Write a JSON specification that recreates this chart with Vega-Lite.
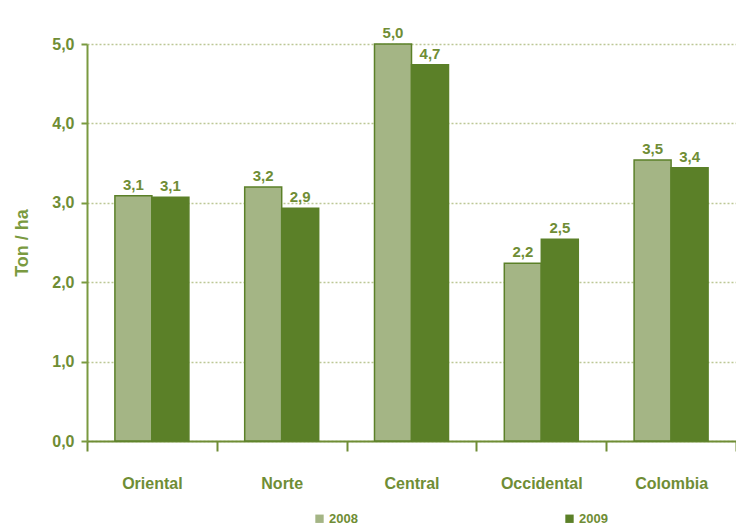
{
  "$schema": "https://vega.github.io/schema/vega-lite/v6.json",
  "width": 649,
  "height": 397,
  "autosize": {"type": "none"},
  "padding": {"left": 87, "top": 44, "right": 0, "bottom": 86},
  "background": "#ffffff",
  "config": {
    "locale": {"number": {"decimal": ",", "thousands": ".", "grouping": [3], "currency": ["$", ""]}},
    "view": {"stroke": null},
    "font": "Liberation Sans"
  },
  "data": {
    "values": [
      {"region": "Oriental", "year": "2008", "value": 3.09},
      {"region": "Oriental", "year": "2009", "value": 3.07},
      {"region": "Norte", "year": "2008", "value": 3.2},
      {"region": "Norte", "year": "2009", "value": 2.93},
      {"region": "Central", "year": "2008", "value": 5.0},
      {"region": "Central", "year": "2009", "value": 4.74},
      {"region": "Occidental", "year": "2008", "value": 2.24},
      {"region": "Occidental", "year": "2009", "value": 2.54},
      {"region": "Colombia", "year": "2008", "value": 3.54},
      {"region": "Colombia", "year": "2009", "value": 3.44}
    ]
  },
  "encoding": {
    "x": {
      "field": "region", "type": "nominal", "sort": null,
      "scale": {"paddingInner": 0, "paddingOuter": 0},
      "axis": {
        "title": null, "labelAngle": 0, "labelFont": "Liberation Sans", "labelFontWeight": "bold",
        "labelFontSize": 16, "labelColor": "#6f8d35", "labelPadding": 24,
        "domainColor": "#6f8d35", "domainWidth": 2, "tickColor": "#6f8d35", "tickWidth": 2,
        "tickSize": 10, "tickBand": "extent", "grid": false
      }
    },
    "xOffset": {"field": "year", "type": "nominal", "scale": {"paddingInner": 0, "paddingOuter": 0.754}},
    "y": {
      "field": "value", "type": "quantitative",
      "scale": {"domain": [0, 5], "nice": false},
      "axis": {
        "title": "Ton / ha", "titleFont": "Liberation Sans", "titleFontSize": 18, "titleFontWeight": "bold",
        "titleColor": "#7a9a40", "titlePadding": 20,
        "values": [0, 1, 2, 3, 4, 5], "format": ".1f",
        "labelFont": "Liberation Sans", "labelFontWeight": "bold", "labelFontSize": 16, "labelColor": "#6f8d35",
        "labelPadding": 7,
        "domainColor": "#7a9a40", "domainWidth": 2, "tickColor": "#7a9a40", "tickWidth": 2, "tickSize": 6,
        "grid": true, "gridColor": "#bcc795", "gridDash": [2, 2], "gridWidth": 1.5
      }
    }
  },
  "layer": [
    {
      "mark": {"type": "bar", "strokeWidth": 1.5},
      "encoding": {
        "fill": {
          "field": "year", "type": "nominal",
          "scale": {"domain": ["2008", "2009"], "range": ["#a4b585", "#5b8028"]},
          "legend": {
            "title": null, "orient": "none", "direction": "horizontal",
            "legendX": 226, "legendY": 468, "columnPadding": 205,
            "symbolType": "square", "symbolSize": 70, "symbolStrokeWidth": 0,
            "labelFont": "Liberation Sans", "labelFontWeight": "bold", "labelFontSize": 13,
            "labelColor": "#6f8d35", "labelOffset": 3
          }
        },
        "stroke": {
          "field": "year", "type": "nominal",
          "scale": {"domain": ["2008", "2009"], "range": ["#5b8028", "#5b8028"]},
          "legend": null
        }
      }
    },
    {
      "mark": {"type": "text", "dy": -11, "font": "Liberation Sans", "fontWeight": "bold", "fontSize": 15, "color": "#6f8d35"},
      "encoding": {
        "text": {"field": "value", "type": "quantitative", "format": ".1f"}
      }
    }
  ]
}
